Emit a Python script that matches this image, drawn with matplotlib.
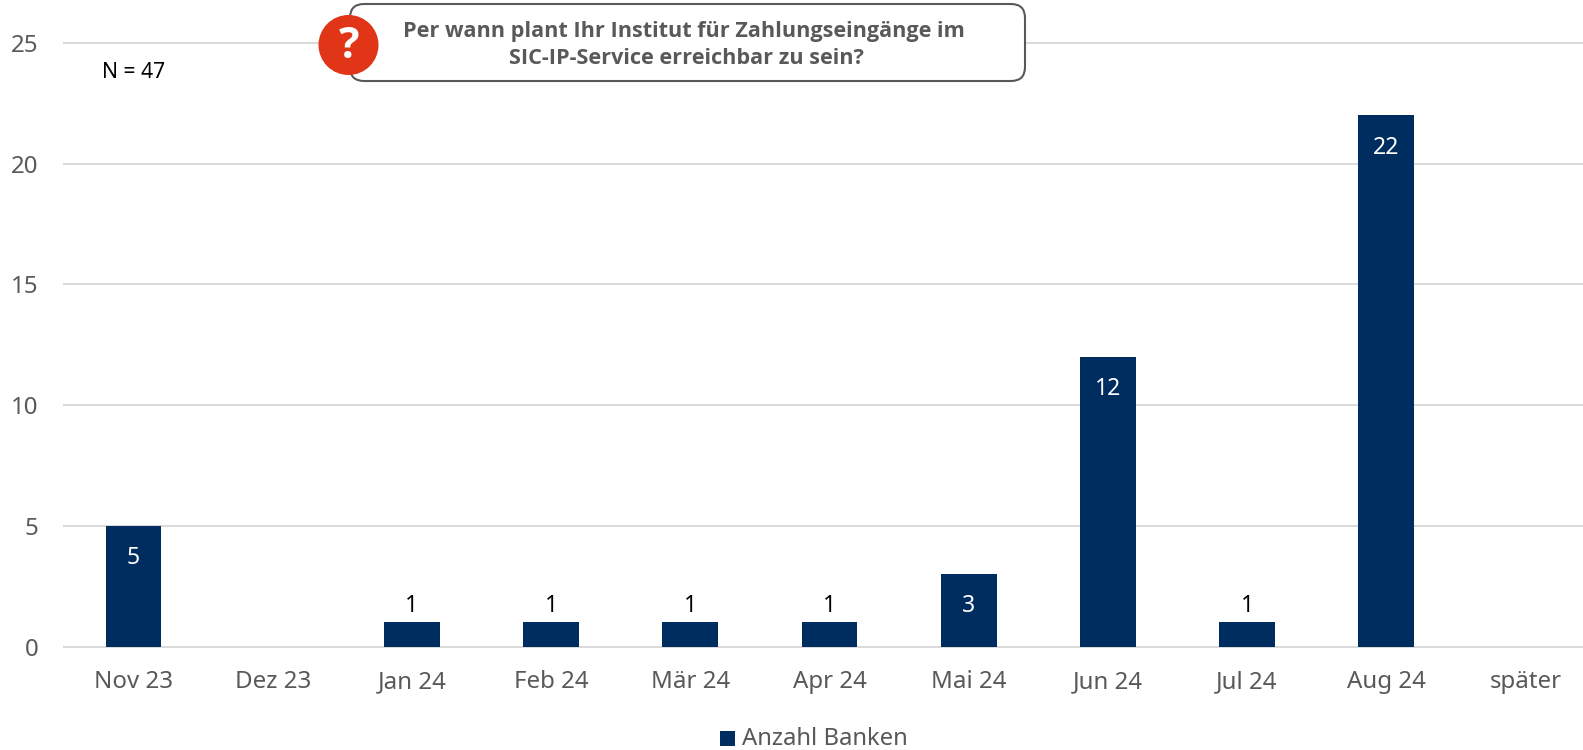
import matplotlib
matplotlib.use("Agg")
import matplotlib.pyplot as plt
from matplotlib.patches import FancyBboxPatch, Circle, Rectangle

categories = ["Nov 23","Dez 23","Jan 24","Feb 24","Mär 24","Apr 24","Mai 24","Jun 24","Jul 24","Aug 24","später"]
values = [5,0,1,1,1,1,3,12,1,22,0]
y_ticks = [0,5,10,15,20,25]
W,H = 1583,750
plt.rcParams['font.family'] = ['Noto Sans','DejaVu Sans']
BOLD = ['Open Sans','Noto Sans','DejaVu Sans']
fig = plt.figure(figsize=(W/100,H/100),dpi=100)
L,R,T,B = 64,1595,43,646.5
ax = fig.add_axes([L/W,1-B/H,(R-L)/W,(B-T)/H])
x = list(range(len(categories)))
ax.set_xlim(-0.5,10.5); ax.set_ylim(0,25)
ax.bar(x,values,width=0.4,color="#002D5F",zorder=3)
ax.set_yticks(y_ticks); ax.set_xticks(x); ax.set_xticklabels(categories)
ax.grid(axis='y',color="#D9D9D9",lw=1.4,zorder=0); ax.set_axisbelow(True)
for g in ax.get_ygridlines(): g.set_clip_on(False)
for s in ax.spines.values(): s.set_visible(False)
ax.tick_params(length=0,labelsize=17.3,labelcolor="#595959")
ax.tick_params(axis='x',pad=17); ax.tick_params(axis='y',pad=18.5)
for xi,v in zip(x,values):
    if v==0: continue
    if v==1:
        ax.annotate(str(v),(xi,v),xytext=(0,3),textcoords='offset points',ha='center',va='bottom',fontsize=16.5,color='black')
    else:
        ax.annotate(str(v),(xi,v),xytext=(0,-14.5),textcoords='offset points',ha='center',va='top',fontsize=16.5,color='white',zorder=4)
fig.text(102/W,1-73/H,"N = 47",fontsize=15.2,color='black',va='center',ha='left')
bg = fig.add_axes([0,0,1,1]); bg.set_xlim(0,W); bg.set_ylim(H,0); bg.axis('off'); bg.patch.set_alpha(0)
bg.add_patch(FancyBboxPatch((350,4),675,77,boxstyle="round,pad=0,rounding_size=14",fc="white",ec="#595959",lw=1.5))
bg.add_patch(Circle((348.5,45),30,fc="#E03516",ec="none"))
bg.text(349,47,"?",color="white",fontsize=31,fontweight='bold',family=BOLD,ha='center',va='center')
bg.text(684,31.5,"Per wann plant Ihr Institut für Zahlungseingänge im",fontsize=15.55,fontweight='bold',family=BOLD,color="#595959",ha='center',va='center')
bg.text(686,59,"SIC-IP-Service erreichbar zu sein?",fontsize=15.55,fontweight='bold',family=BOLD,color="#595959",ha='center',va='center')
bg.add_patch(Rectangle((720,731),15,15,fc="#002D5F",ec="none"))
bg.text(742,739,"Anzahl Banken",fontsize=17.2,color="#595959",ha='left',va='center')
fig.savefig("out.png",dpi=100)
